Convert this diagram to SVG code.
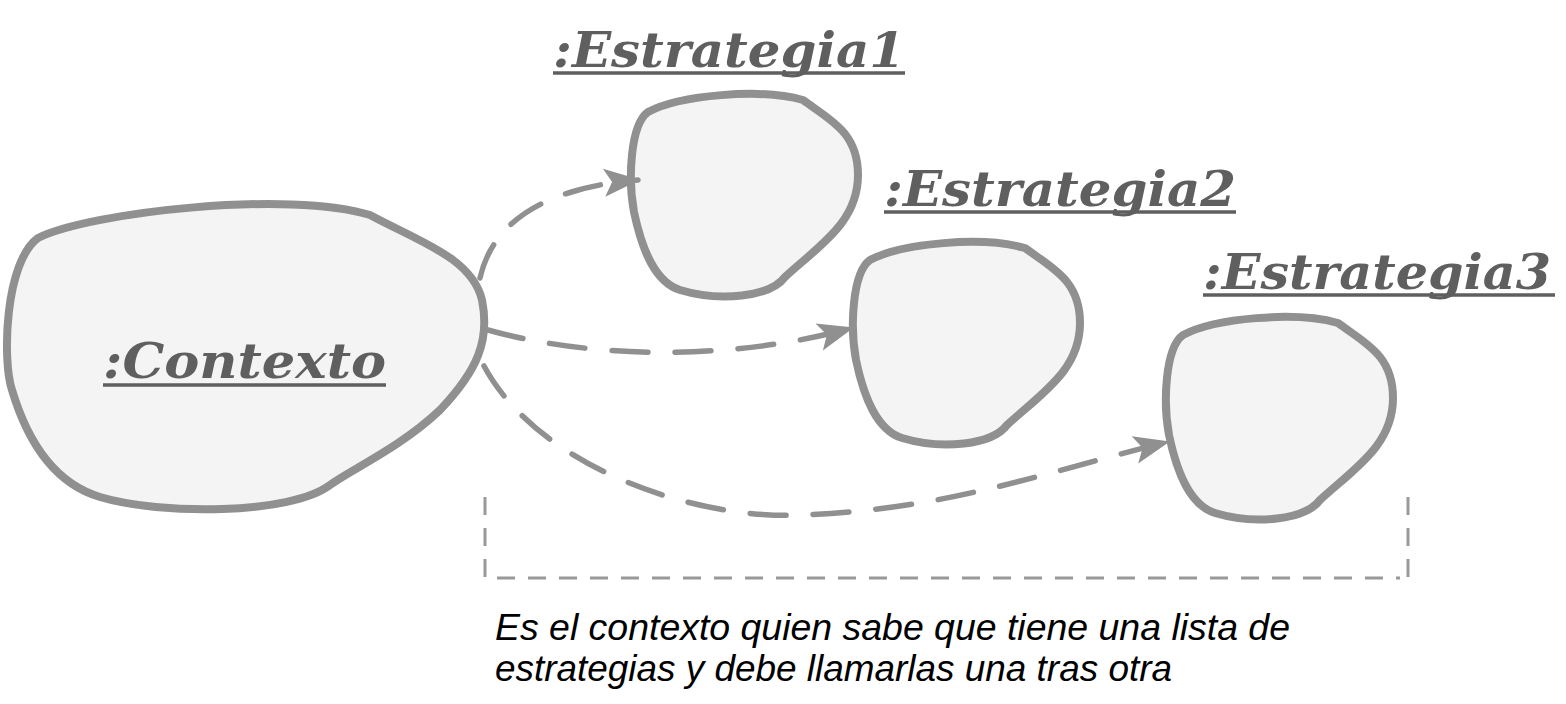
<svg xmlns="http://www.w3.org/2000/svg" width="1566" height="704" viewBox="0 0 1566 704">
<style>
.blob{fill:#f4f4f4;stroke:#909090;stroke-width:8;stroke-linejoin:round}
.lbl{font-family:"DejaVu Serif","Liberation Serif",serif;font-weight:bold;font-style:italic;font-size:48px;fill:#5f5f5f}
.ul{stroke:#5f5f5f;stroke-width:3.5}
.conn{fill:none;stroke:#909090;stroke-width:5.5;stroke-linecap:round;stroke-dasharray:36 27}
.brk{fill:none;stroke:#999999;stroke-width:3;stroke-dasharray:18 13}
.cap{font-family:"Liberation Sans",Arial,sans-serif;font-style:italic;font-size:36px;fill:#000}
</style>
<defs>
<path id="sblob" d="M 648,112 C 680,95 760,88 803,100 C 830,120 858,132 858,175 C 858,222 820,245 785,277 C 770,297 720,302 680,290 C 655,282 642,250 634,212 C 628,180 630,125 648,112 Z"/>
<marker id="ah" viewBox="-36 -15 38 30" markerWidth="38" markerHeight="30" refX="0" refY="0" orient="auto" markerUnits="userSpaceOnUse">
<path d="M2,0 L-34,-14 L-26,0 L-34,14 Z" fill="#909090"/>
</marker>
</defs>
<g id="contexto">
<path class="blob" d="M 38,238 C 90,212 290,190 370,215 C 420,242 472,258 482,300 C 490,340 478,370 440,410 C 400,448 350,470 330,485 C 290,515 160,515 100,497 C 60,485 30,450 12,390 C 2,360 5,262 38,238 Z"/>
<text class="lbl" x="103" y="378" textLength="283" lengthAdjust="spacingAndGlyphs">:Contexto</text>
<line class="ul" x1="103" y1="385" x2="386" y2="385"/>
</g>
<g id="estrategia1">
<use href="#sblob" class="blob"/>
<text class="lbl" x="553" y="67" textLength="352" lengthAdjust="spacingAndGlyphs">:Estrategia1</text>
<line class="ul" x1="553" y1="73" x2="905" y2="73"/>
</g>
<g id="estrategia2">
<use href="#sblob" class="blob" transform="translate(222,148)"/>
<text class="lbl" x="884" y="206" textLength="352" lengthAdjust="spacingAndGlyphs">:Estrategia2</text>
<line class="ul" x1="884" y1="212" x2="1236" y2="212"/>
</g>
<g id="estrategia3">
<use href="#sblob" class="blob" transform="translate(535,223)"/>
<text class="lbl" x="1203" y="289" textLength="348" lengthAdjust="spacingAndGlyphs">:Estrategia3</text>
<line class="ul" x1="1203" y1="295" x2="1555" y2="295"/>
</g>
<g id="connectors">
<path class="conn" d="M 480,278 C 492,225 540,188 638,180" marker-end="url(#ah)"/>
<path class="conn" d="M 488,330 C 580,356 720,364 852,328" marker-end="url(#ah)"/>
<path class="conn" d="M 484,366 C 540,470 700,520 800,515 C 950,510 1050,470 1168,442" marker-end="url(#ah)"/>
</g>
<g id="nota">
<path class="brk" d="M 485,497 L 485,578 L 1400,578"/>
<path class="brk" d="M 1408,497 L 1408,578 L 1398,578"/>
<text class="cap" x="495" y="640" textLength="795" lengthAdjust="spacingAndGlyphs">Es el contexto quien sabe que tiene una lista de</text>
<text class="cap" x="495" y="681" textLength="677" lengthAdjust="spacingAndGlyphs">estrategias y debe llamarlas una tras otra</text>
</g>
</svg>
